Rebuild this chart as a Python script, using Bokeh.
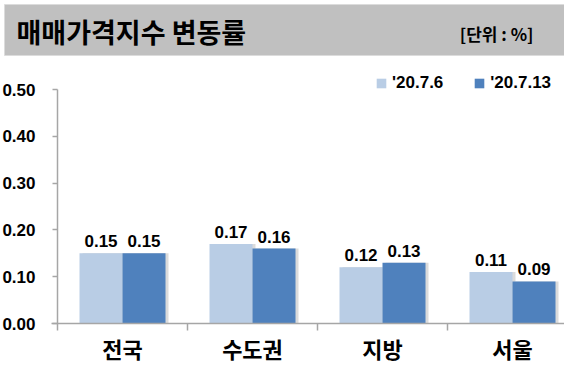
from bokeh.plotting import figure
from bokeh.models import (ColumnDataSource, LinearAxis, FixedTicker, Range1d,
                          Legend, LegendItem, NumeralTickFormatter)
from bokeh.transform import dodge
from bokeh.core.properties import value
from bokeh.embed import file_html
from bokeh.resources import INLINE

# ---- data ----
title_text = "매매가격지수 변동률"
unit_text = "[단위 : %]"
categories = ["전국", "수도권", "지방", "서울"]
series_names = ["'20.7.6", "'20.7.13"]
values_prev = [0.15, 0.17, 0.12, 0.11]
values_curr = [0.15, 0.16, 0.13, 0.09]
y_ticks = [0.0, 0.1, 0.2, 0.3, 0.4, 0.5]

# ---- layout helpers (canvas pixel -> data) ----
W, H = 564, 364
X0, PXX = 57, 130.0
Y0, PXY = 323, 468.0


def px2x(px):
    return (px - X0) / PXX


def px2y(py):
    return (Y0 - py) / PXY


LIGHT = "#b9cde5"
DARK = "#4f81bd"
AXIS = "#a6a6a6"
NUMFONT = "Liberation Sans"
KRFONT = "Noto Sans CJK KR"

centers = [i + 0.5 for i in range(len(categories))]
src = ColumnDataSource(dict(
    x=centers,
    prev=values_prev,
    curr=values_curr,
    prev_lbl=["%.2f" % v for v in values_prev],
    curr_lbl=["%.2f" % v for v in values_curr],
))

p = figure(width=W, height=H, output_backend="svg", toolbar_location=None,
           x_range=Range1d(px2x(0), px2x(W)),
           y_range=Range1d(px2y(H), px2y(0)),
           min_border=0, x_axis_type=None, y_axis_type=None)
p.outline_line_color = None
p.background_fill_color = "white"
p.border_fill_color = "white"

# ---- title bar ----
p.quad(left=[px2x(4)], right=[px2x(575)], top=[px2y(4)], bottom=[px2y(55)],
       fill_color="#c0c0c0", line_color="#dcdcdc", line_width=1)
p.text(x=[px2x(16)], y=[px2y(31)], text=[title_text],
       text_font=value(KRFONT), text_font_style="bold", text_font_size="27px",
       text_color="#000000", text_baseline="middle", text_align="left")
p.text(x=[px2x(533)], y=[px2y(33)], text=[unit_text],
       text_font=value(KRFONT), text_font_style="bold", text_font_size="17px",
       text_color="#000000", text_baseline="middle", text_align="right")

# ---- bars ----
bw = 43 / PXX
half = 21.5 / PXX
sh = 3 / PXX
p.vbar(x=dodge("x", -half + sh, range=p.x_range), top="prev", width=bw, bottom=0,
       source=src, fill_color="#b0b0b0", fill_alpha=0.45, line_color=None)
p.vbar(x=dodge("x", half + sh, range=p.x_range), top="curr", width=bw, bottom=0,
       source=src, fill_color="#b0b0b0", fill_alpha=0.45, line_color=None)
r_prev = p.vbar(x=dodge("x", -half, range=p.x_range), top="prev", width=bw, bottom=0,
                source=src, fill_color=LIGHT, line_color=None)
r_curr = p.vbar(x=dodge("x", half, range=p.x_range), top="curr", width=bw, bottom=0,
                source=src, fill_color=DARK, line_color=None)

# ---- value labels ----
for col, ycol, off in (("prev_lbl", "prev", -half), ("curr_lbl", "curr", half)):
    p.text(x=dodge("x", off, range=p.x_range), y=ycol, text=col, source=src,
           text_font=value(NUMFONT), text_font_style="bold", text_font_size="17px",
           text_color="#000000", text_align="center", text_baseline="alphabetic",
           y_offset=-12)

# ---- axes ----
yaxis = LinearAxis(ticker=FixedTicker(ticks=y_ticks),
                   formatter=NumeralTickFormatter(format="0.00"),
                   fixed_location=0, bounds=(0, 0.5))
yaxis.axis_line_color = AXIS
yaxis.axis_line_width = 1.5
yaxis.major_tick_line_color = AXIS
yaxis.major_tick_line_width = 1.5
yaxis.major_tick_out = 5
yaxis.major_tick_in = 0
yaxis.minor_tick_line_color = None
yaxis.major_label_standoff = 17
yaxis.major_label_text_font = NUMFONT
yaxis.major_label_text_font_style = "bold"
yaxis.major_label_text_font_size = "17px"
yaxis.major_label_text_color = "#000000"
p.add_layout(yaxis, "left")

xline = LinearAxis(ticker=FixedTicker(ticks=list(range(len(categories) + 1))),
                   fixed_location=0, bounds=(px2x(51), len(categories)),
                   major_label_overrides={i: "" for i in range(len(categories) + 1)})
xline.axis_line_color = AXIS
xline.axis_line_width = 1.5
xline.major_tick_line_color = AXIS
xline.major_tick_line_width = 1.5
xline.major_tick_out = 7
xline.major_tick_in = 0
xline.minor_tick_line_color = None
xline.major_label_text_font_size = "1px"
p.add_layout(xline, "below")

xcat = LinearAxis(ticker=FixedTicker(ticks=centers), fixed_location=0,
                  major_label_overrides={c: n for c, n in zip(centers, categories)})
xcat.axis_line_color = None
xcat.major_tick_line_color = None
xcat.minor_tick_line_color = None
xcat.major_tick_out = 0
xcat.major_tick_in = 0
xcat.major_label_standoff = 8
xcat.major_label_text_font = KRFONT
xcat.major_label_text_font_style = "bold"
xcat.major_label_text_font_size = "22px"
xcat.major_label_text_color = "#000000"
p.add_layout(xcat, "below")

# ---- legend ----
legend = Legend(items=[LegendItem(label=series_names[0], renderers=[r_prev]),
                       LegendItem(label=series_names[1], renderers=[r_curr])],
                orientation="horizontal", location=(375, 271),
                glyph_width=12, glyph_height=12, label_standoff=5, spacing=30,
                padding=0, margin=0, border_line_color=None,
                background_fill_alpha=0,
                label_text_font=NUMFONT, label_text_font_style="bold",
                label_text_font_size="17px", label_text_color="#000000")
p.add_layout(legend)

open("out.html", "w").write(file_html(p, INLINE))
